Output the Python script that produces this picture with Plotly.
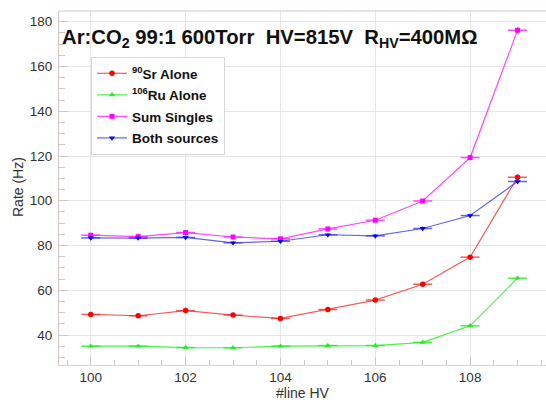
import plotly.graph_objects as go

# ---- data ----
hv_line = [100, 101, 102, 103, 104, 105, 106, 107, 108, 109]
sr_alone = [49.2, 48.6, 50.9, 48.9, 47.4, 51.4, 55.6, 62.7, 74.8, 110.5]
ru_alone = [35.0, 35.0, 34.4, 34.3, 35.0, 35.3, 35.3, 36.7, 44.1, 65.4]
sum_singles = [84.6, 84.0, 85.8, 83.8, 83.0, 87.4, 91.3, 99.9, 119.3, 176.2]
both_sources = [83.4, 83.3, 83.6, 81.2, 81.9, 84.8, 84.3, 87.6, 93.4, 108.6]

sr_err = [0.6, 0.6, 0.6, 0.6, 0.6, 0.6, 0.7, 0.8, 0.9, 1.2]
ru_err = [0.5, 0.5, 0.5, 0.5, 0.5, 0.5, 0.5, 0.5, 0.6, 0.8]
sum_err = [0.8, 0.8, 0.8, 0.8, 0.8, 0.8, 0.9, 0.9, 1.1, 1.4]
both_err = [0.8, 0.8, 0.8, 0.8, 0.8, 0.8, 0.8, 0.9, 0.9, 1.0]
hv_err = [0.2] * len(hv_line)

x_tick_vals = [100, 102, 104, 106, 108]
y_tick_vals = [40, 60, 80, 100, 120, 140, 160, 180]

names = ["<sup>90</sup>Sr Alone", "<sup>106</sup>Ru Alone", "Sum Singles", "Both sources"]

W, H = 546, 400
L, R, T, B = 59, 0, 11, 35
PW, PH = W - L - R, H - T - B


def px_x(px):
    return (px - L) / PW


def px_y(py):
    return (H - B - py) / PH


series = [
    (sr_alone, sr_err, names[0], "rgba(235,40,40,0.75)", "#ff0000", "circle", 5.5),
    (ru_alone, ru_err, names[1], "rgba(40,240,40,0.85)", "#22ee22", "triangle-up", 5.5),
    (sum_singles, sum_err, names[2], "rgba(255,40,255,0.85)", "#ff00ff", "square", 5),
    (both_sources, both_err, names[3], "rgba(50,50,235,0.75)", "#0000ff", "triangle-down", 5.5),
]

fig = go.Figure()
for i, (yv, ye, nm, lc, mc, sym, ms) in enumerate(series):
    fig.add_trace(go.Scatter(
        x=hv_line, y=yv, name=nm, mode="lines+markers",
        legendgroup=f"g{i}",
        line=dict(color=lc, width=1.2),
        marker=dict(color=mc, symbol=sym, size=ms, line=dict(width=0)),
        error_x=dict(type="data", array=hv_err, visible=True, width=0,
                     thickness=1.5, color=lc),
        error_y=dict(type="data", array=ye, visible=True, width=0,
                     thickness=1.2, color=lc),
    ))

font_family = "Liberation Sans, Arial, sans-serif"

fig.update_layout(
    width=W, height=H,
    margin=dict(l=L, r=R, t=T, b=B),
    paper_bgcolor="white", plot_bgcolor="white",
    font=dict(family=font_family, color="#333333", size=13.5),
    showlegend=True,
    legend=dict(
        x=px_x(91), y=px_y(57), xanchor="left", yanchor="top",
        bgcolor="white", bordercolor="#d8d8d8", borderwidth=1,
        font=dict(family=font_family, size=13.5, color="#111111", weight="bold"),
        tracegroupgap=1, itemwidth=30,
    ),
    xaxis=dict(
        range=[99.33, 109.6], tickvals=x_tick_vals, ticktext=[str(v) for v in x_tick_vals],
        showgrid=True, gridcolor="#e6e6e6", gridwidth=1,
        ticks="inside", ticklen=8, tickcolor="#c8c8c8",
        minor=dict(dtick=0.5, tick0=100, ticks="inside", ticklen=5, tickcolor="#c8c8c8", showgrid=False),
        showline=True, linecolor="#d4d4d4", linewidth=1,
        zeroline=False, tickfont=dict(size=13.5, color="#333333"),
    ),
    yaxis=dict(
        range=[26.6, 184.8], tickvals=y_tick_vals, ticktext=[str(v) for v in y_tick_vals],
        showgrid=True, gridcolor="#e6e6e6", gridwidth=1,
        ticks="inside", ticklen=9, tickcolor="#c8c8c8",
        minor=dict(dtick=5, tick0=0, ticks="inside", ticklen=6, tickcolor="#c8c8c8", showgrid=False),
        showline=True, linecolor="#d9c4c4", linewidth=1,
        zeroline=False, tickfont=dict(size=13.5, color="#333333"),
        ticklabelstandoff=3,
    ),
)

# top frame line
fig.add_shape(type="line", xref="paper", yref="paper", x0=0, x1=1, y0=1, y1=1,
              line=dict(color="#d9c4c4", width=1))

fig.add_annotation(
    text="Ar:CO<sub>2</sub> 99:1 600Torr\u00a0\u00a0HV=815V\u00a0\u00a0R<sub>HV</sub>=400M\u03a9",
    xref="paper", yref="paper", x=px_x(60), y=px_y(24), xanchor="left", yanchor="top",
    showarrow=False, font=dict(family=font_family, size=20.3, color="#111111", weight="bold"),
)
fig.add_annotation(
    text="Rate (Hz)", xref="paper", yref="paper", x=px_x(18), y=px_y(187),
    xanchor="center", yanchor="middle", textangle=-90, showarrow=False,
    font=dict(family=font_family, size=14, color="#333333"),
)
fig.add_annotation(
    text="#line HV", xref="paper", yref="paper", x=px_x(302.5), y=px_y(393),
    xanchor="center", yanchor="middle", showarrow=False,
    font=dict(family=font_family, size=14, color="#333333"),
)

fig.write_html("out.html", config={"displayModeBar": False},
               post_script="document.body.style.margin='0';document.body.style.overflow='hidden';")
